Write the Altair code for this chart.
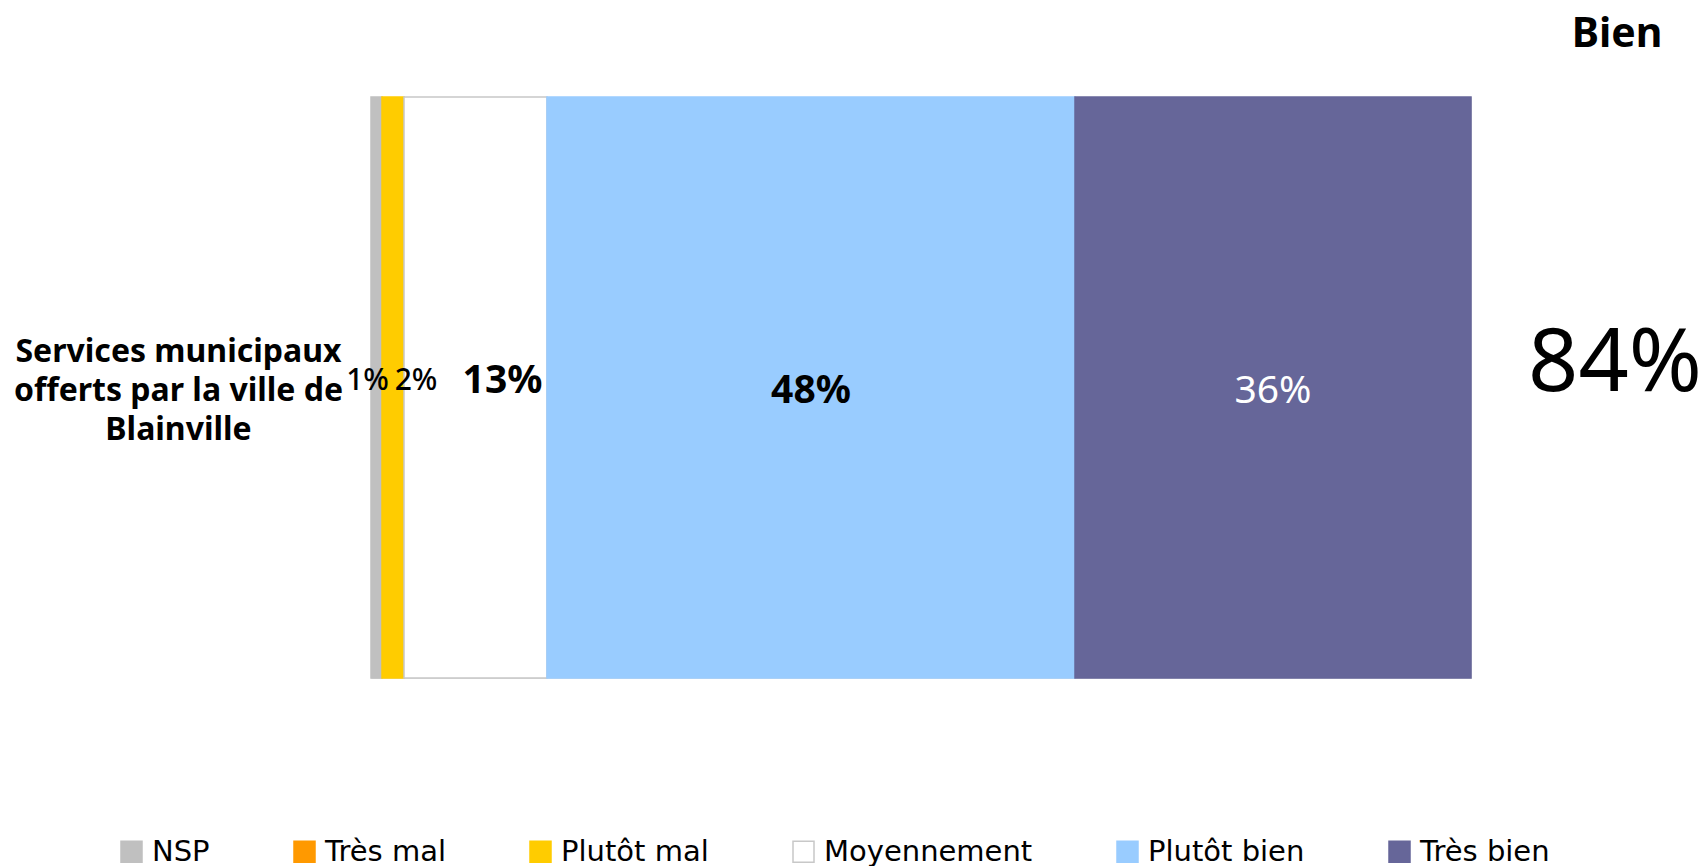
import altair as alt
import pandas as pd

# ---- data ----
question = "Services municipaux|offerts par la ville de|Blainville"
categories = ["NSP", "Très mal", "Plutôt mal", "Moyennement", "Plutôt bien", "Très bien"]
values = [1, 0, 2, 13, 48, 36]
fill_colors = ["#c0c0c0", "#ff9900", "#ffcc00", "#ffffff", "#99ccff", "#666699"]
stroke_colors = ["#c0c0c0", "#ff9900", "#ffcc00", "#c8c8c8", "#99ccff", "#666699"]
positive_group = ["Plutôt bien", "Très bien"]
header = ["Bien"]

df = pd.DataFrame({
    "q": [question] * len(categories),
    "cat": categories,
    "value": values,
    "ord": list(range(len(categories))),
})

FONT = "Noto Sans"
xscale = alt.Scale(domain=[0, 100], nice=False, zero=True)
yscale = alt.Scale(paddingInner=0, paddingOuter=0)

legend = alt.Legend(
    title=None, orient="none", legendX=-254, legendY=740, direction="horizontal",
    columns=6, columnPadding=80, symbolType="square", symbolSize=441,
    labelFont="DejaVu Sans", labelFontSize=29, labelOffset=6, labelColor="#000000",
    labelLimit=0, padding=0, symbolStrokeWidth=1.5,
)

base = alt.Chart(df)

bars = base.transform_filter("datum.value > 0").mark_bar(strokeWidth=1.5).encode(
    x=alt.X("value:Q", stack="zero", scale=xscale, axis=None),
    y=alt.Y("q:N", scale=yscale, title=None, axis=alt.Axis(
        labelExpr="split(datum.label, '|')", labelAlign="center", labelBaseline="middle",
        labelPadding=193, labelOffset=-36, labelLineHeight=39, labelFont=FONT, labelFontSize=32,
        labelFontWeight="bold", labelColor="#000000", labelLimit=0,
        domain=False, ticks=False, tickSize=0, grid=False)),
    fill=alt.Fill("cat:N", scale=alt.Scale(domain=categories, range=fill_colors), legend=legend),
    stroke=alt.Stroke("cat:N", scale=alt.Scale(domain=categories, range=stroke_colors), legend=legend),
    order=alt.Order("ord:Q"),
)

stacked = base.transform_stack(
    stack="value", as_=["x0", "x1"], groupby=["q"], sort=[alt.SortField("ord")]
).transform_calculate(
    mid="(datum.x0 + datum.x1) / 2", lab="datum.value + '%'"
)


def label(cat, size, weight, color, dx, dy):
    return stacked.transform_filter(alt.datum.cat == cat).mark_text(
        font=FONT, fontSize=size, fontWeight=weight, color=color, dx=dx, dy=dy,
        align="center", baseline="middle",
    ).encode(x=alt.X("mid:Q", scale=xscale), y=alt.Y("q:N", scale=yscale), text="lab:N")


labels = [
    label("NSP", 30, 500, "#000000", -9, -7),
    label("Plutôt mal", 30, 500, "#000000", 23, -7),
    label("Moyennement", 39, "bold", "#000000", 27, -7),
    label("Plutôt bien", 39, "bold", "#000000", 0, 3),
    label("Très bien", 39, "normal", "#ffffff", 0, 3),
]

total = base.transform_filter(
    alt.FieldOneOfPredicate(field="cat", oneOf=positive_group)
).transform_aggregate(
    tot="sum(value)"
).transform_calculate(
    lab="datum.tot + '%'"
).mark_text(
    font=FONT, fontSize=88, color="#000000",
    align="center", baseline="middle",
).encode(x=alt.value(1244), y=alt.value(268), text="lab:N")

head = alt.Chart(pd.DataFrame({"t": header})).mark_text(
    font=FONT, fontSize=41, fontWeight="bold", color="#000000",
    align="center", baseline="middle",
).encode(x=alt.value(1246), y=alt.value(-62), text="t:N")

chart = alt.layer(bars, *labels, total, head).properties(
    width=1100, height=581,
    autosize=alt.AutoSizeParams(type="none"),
    padding={"left": 363, "top": 89, "right": 229, "bottom": 200},
).configure_view(stroke=None).configure(background="#ffffff")

chart.save("out.html", embed_options={"renderer": "svg", "actions": False})
